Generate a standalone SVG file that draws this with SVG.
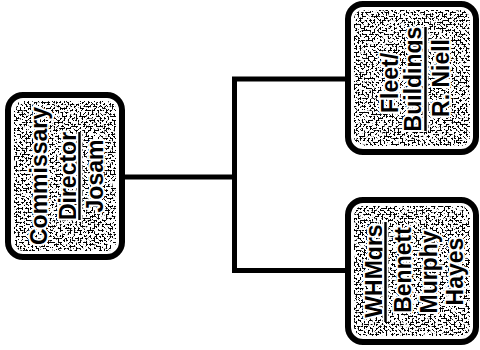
<svg xmlns="http://www.w3.org/2000/svg" width="480" height="350" viewBox="0 0 480 350">
  <defs>
    <filter id="tex" x="0" y="0" width="1" height="1" color-interpolation-filters="sRGB">
      <feTurbulence type="fractalNoise" baseFrequency="0.5" numOctaves="3" seed="7" result="n"/>
      <feColorMatrix in="n" type="matrix" values="0 0 0 0 0  0 0 0 0 0  0 0 0 0 0  1 0 0 0 0" result="a"/>
      <feComponentTransfer in="a" result="t">
        <feFuncA type="linear" slope="25" intercept="-12.75"/>
      </feComponentTransfer>
      <feComposite in="t" in2="SourceGraphic" operator="in"/>
    </filter>
  </defs>
  <style>
    .frame { fill: #ffffff; stroke: #000000; stroke-width: 6; }
    .fill { fill: #000000; filter: url(#tex); }
    .lbl { font-family: "Liberation Sans", Arial, sans-serif; font-weight: bold; font-size: 23px; fill: #000000; stroke: #ffffff; stroke-width: 4; stroke-linejoin: round; paint-order: stroke; text-anchor: middle; }
    .ulh { stroke: #ffffff; stroke-width: 6; fill: none; }
    .ul { stroke: #000000; stroke-width: 2.5; fill: none; }
    .conn { fill: none; stroke: #000000; stroke-width: 5; stroke-linejoin: miter; }
  </style>
  <rect width="480" height="350" fill="#ffffff"/>

  <g id="connectors">
    <path class="conn" d="M125,177 H234.5"/>
    <path class="conn" d="M346,79 H234.5 V270.5 H346"/>
  </g>

  <g id="node-commissary">
    <rect class="frame" x="8" y="95" width="114" height="162" rx="15"/>
    <rect class="fill" x="14" y="101" width="102" height="150" rx="9"/>
    <text class="lbl" transform="translate(46.5,176) rotate(-90)">Commissary</text>
    <text class="lbl" transform="translate(76,176) rotate(-90)">Director</text>
    <line class="ulh" x1="79.5" y1="132" x2="79.5" y2="220"/>
    <line class="ul" x1="79.5" y1="132" x2="79.5" y2="220"/>
    <text class="lbl" transform="translate(103,176) rotate(-90)">Josam</text>
  </g>

  <g id="node-fleet">
    <rect class="frame" x="348" y="4" width="128" height="148" rx="15"/>
    <rect class="fill" x="354" y="10" width="116" height="136" rx="9"/>
    <text class="lbl" transform="translate(398,83) rotate(-90)">Fleet/</text>
    <text class="lbl" transform="translate(421,79) rotate(-90)">Buildings</text>
    <line class="ulh" x1="425.5" y1="27" x2="425.5" y2="131"/>
    <line class="ul" x1="425.5" y1="27" x2="425.5" y2="131"/>
    <text class="lbl" transform="translate(449,78) rotate(-90)">R. Niell</text>
  </g>

  <g id="node-whmgrs">
    <rect class="frame" x="348" y="200" width="128" height="142" rx="15"/>
    <rect class="fill" x="354" y="206" width="116" height="130" rx="9"/>
    <text class="lbl" transform="translate(382,271) rotate(-90)">WHMgrs</text>
    <line class="ulh" x1="385.5" y1="222" x2="385.5" y2="322"/>
    <line class="ul" x1="385.5" y1="222" x2="385.5" y2="322"/>
    <text class="lbl" transform="translate(411,270) rotate(-90)">Bennett</text>
    <text class="lbl" transform="translate(437,272) rotate(-90)">Murphy</text>
    <text class="lbl" transform="translate(463,271.5) rotate(-90)">Hayes</text>
  </g>
</svg>
